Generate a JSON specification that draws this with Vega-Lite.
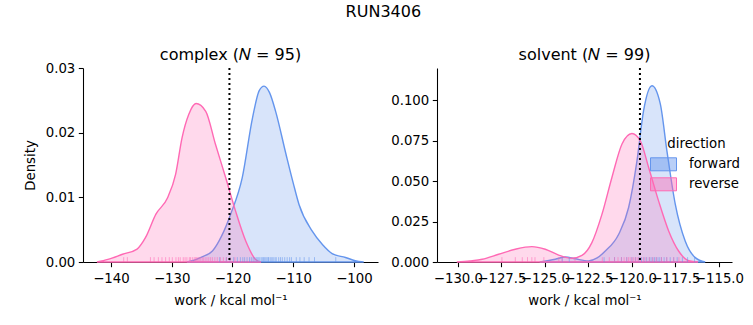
{
  "$schema": "https://vega.github.io/schema/vega-lite/v6.json",
  "title": {"text": "RUN3406", "fontSize": 16, "fontWeight": "normal", "font": "DejaVu Sans", "color": "black", "offset": 27, "anchor": "middle", "frame": "bounds"},
  "padding": {"left": 23, "top": 4, "right": 5, "bottom": 5},
  "spacing": 12,
  "resolve": {"legend": {"fill": "independent", "stroke": "independent"}, "scale": {"x": "independent", "y": "independent", "fill": "independent", "stroke": "independent"}},
  "config": {
    "font": "DejaVu Sans",
    "view": {"stroke": null},
    "axis": {"domainColor": "black", "tickColor": "black", "labelColor": "black", "titleColor": "black", "labelFontSize": 13.3, "titleFontSize": 13.3, "titleFontWeight": "normal", "grid": false, "tickSize": 4.7, "labelPadding": 3.5, "domainWidth": 1.07, "tickWidth": 1.07, "zindex": 1, "labelFont": "DejaVu Sans", "titleFont": "DejaVu Sans", "titlePadding": 8, "labelOverlap": false},
    "axisX": {"labelPadding": 5},
    "title": {"fontSize": 16, "fontWeight": "normal", "font": "DejaVu Sans", "color": "black", "offset": -2},
    "legend": {"labelFont": "DejaVu Sans", "titleFont": "DejaVu Sans", "labelColor": "black", "titleColor": "black", "labelFontSize": 13.3, "titleFontSize": 13.3, "titleFontWeight": "normal"}
  },
  "datasets": {
    "kde": [
      {"panel": "complex", "direction": "forward", "work": -127.5, "density": 0},
      {"panel": "complex", "direction": "forward", "work": -126.6, "density": 0.0002},
      {"panel": "complex", "direction": "forward", "work": -125.0, "density": 0.0008},
      {"panel": "complex", "direction": "forward", "work": -123.3, "density": 0.0017},
      {"panel": "complex", "direction": "forward", "work": -121.8, "density": 0.0040},
      {"panel": "complex", "direction": "forward", "work": -120.3, "density": 0.0074},
      {"panel": "complex", "direction": "forward", "work": -118.4, "density": 0.0130},
      {"panel": "complex", "direction": "forward", "work": -116.7, "density": 0.0223},
      {"panel": "complex", "direction": "forward", "work": -115.6, "density": 0.0265},
      {"panel": "complex", "direction": "forward", "work": -114.8, "density": 0.0272},
      {"panel": "complex", "direction": "forward", "work": -113.9, "density": 0.0262},
      {"panel": "complex", "direction": "forward", "work": -112.9, "density": 0.0233},
      {"panel": "complex", "direction": "forward", "work": -111.2, "density": 0.0167},
      {"panel": "complex", "direction": "forward", "work": -110.0, "density": 0.0122},
      {"panel": "complex", "direction": "forward", "work": -109.05, "density": 0.0089},
      {"panel": "complex", "direction": "forward", "work": -106.9, "density": 0.0048},
      {"panel": "complex", "direction": "forward", "work": -105.2, "density": 0.0027},
      {"panel": "complex", "direction": "forward", "work": -103.6, "density": 0.0013},
      {"panel": "complex", "direction": "forward", "work": -101.4, "density": 0.0007},
      {"panel": "complex", "direction": "forward", "work": -99.8, "density": 0.0002},
      {"panel": "complex", "direction": "forward", "work": -98.4, "density": 0},
      {"panel": "complex", "direction": "reverse", "work": -142.3, "density": 0},
      {"panel": "complex", "direction": "reverse", "work": -140.5, "density": 0.0004},
      {"panel": "complex", "direction": "reverse", "work": -138.1, "density": 0.0012},
      {"panel": "complex", "direction": "reverse", "work": -135.7, "density": 0.0020},
      {"panel": "complex", "direction": "reverse", "work": -134.3, "density": 0.0038},
      {"panel": "complex", "direction": "reverse", "work": -132.6, "density": 0.0074},
      {"panel": "complex", "direction": "reverse", "work": -130.7, "density": 0.0099},
      {"panel": "complex", "direction": "reverse", "work": -129.35, "density": 0.0136},
      {"panel": "complex", "direction": "reverse", "work": -128.3, "density": 0.0192},
      {"panel": "complex", "direction": "reverse", "work": -127.2, "density": 0.0228},
      {"panel": "complex", "direction": "reverse", "work": -126.0, "density": 0.0245},
      {"panel": "complex", "direction": "reverse", "work": -124.4, "density": 0.0233},
      {"panel": "complex", "direction": "reverse", "work": -122.8, "density": 0.0182},
      {"panel": "complex", "direction": "reverse", "work": -121.1, "density": 0.0130},
      {"panel": "complex", "direction": "reverse", "work": -119.5, "density": 0.0079},
      {"panel": "complex", "direction": "reverse", "work": -117.8, "density": 0.0032},
      {"panel": "complex", "direction": "reverse", "work": -116.2, "density": 0.0004},
      {"panel": "complex", "direction": "reverse", "work": -115.3, "density": 0},
      {"panel": "solvent", "direction": "forward", "work": -125.3, "density": 0},
      {"panel": "solvent", "direction": "forward", "work": -124.4, "density": 0.0017},
      {"panel": "solvent", "direction": "forward", "work": -123.83, "density": 0.0031},
      {"panel": "solvent", "direction": "forward", "work": -123.26, "density": 0.0020},
      {"panel": "solvent", "direction": "forward", "work": -122.49, "density": 0.0007},
      {"panel": "solvent", "direction": "forward", "work": -122.0, "density": 0.0025},
      {"panel": "solvent", "direction": "forward", "work": -121.53, "density": 0.0068},
      {"panel": "solvent", "direction": "forward", "work": -120.76, "density": 0.0172},
      {"panel": "solvent", "direction": "forward", "work": -120.19, "density": 0.0337},
      {"panel": "solvent", "direction": "forward", "work": -119.71, "density": 0.0626},
      {"panel": "solvent", "direction": "forward", "work": -119.33, "density": 0.0936},
      {"panel": "solvent", "direction": "forward", "work": -118.85, "density": 0.1090},
      {"panel": "solvent", "direction": "forward", "work": -118.37, "density": 0.0978},
      {"panel": "solvent", "direction": "forward", "work": -117.99, "density": 0.0688},
      {"panel": "solvent", "direction": "forward", "work": -117.51, "density": 0.0358},
      {"panel": "solvent", "direction": "forward", "work": -116.94, "density": 0.0130},
      {"panel": "solvent", "direction": "forward", "work": -116.36, "density": 0.0027},
      {"panel": "solvent", "direction": "forward", "work": -115.79, "density": 0},
      {"panel": "solvent", "direction": "reverse", "work": -130.06, "density": 0},
      {"panel": "solvent", "direction": "reverse", "work": -129.3, "density": 0.0007},
      {"panel": "solvent", "direction": "reverse", "work": -128.6, "density": 0.0017},
      {"panel": "solvent", "direction": "reverse", "work": -127.66, "density": 0.0048},
      {"panel": "solvent", "direction": "reverse", "work": -126.7, "density": 0.0079},
      {"panel": "solvent", "direction": "reverse", "work": -125.75, "density": 0.0095},
      {"panel": "solvent", "direction": "reverse", "work": -124.98, "density": 0.0079},
      {"panel": "solvent", "direction": "reverse", "work": -124.21, "density": 0.0043},
      {"panel": "solvent", "direction": "reverse", "work": -123.45, "density": 0.0023},
      {"panel": "solvent", "direction": "reverse", "work": -122.87, "density": 0.0041},
      {"panel": "solvent", "direction": "reverse", "work": -122.3, "density": 0.0120},
      {"panel": "solvent", "direction": "reverse", "work": -121.72, "density": 0.0296},
      {"panel": "solvent", "direction": "reverse", "work": -121.15, "density": 0.0523},
      {"panel": "solvent", "direction": "reverse", "work": -120.57, "density": 0.0730},
      {"panel": "solvent", "direction": "reverse", "work": -120.0, "density": 0.0795},
      {"panel": "solvent", "direction": "reverse", "work": -119.52, "density": 0.0750},
      {"panel": "solvent", "direction": "reverse", "work": -119.04, "density": 0.0585},
      {"panel": "solvent", "direction": "reverse", "work": -118.47, "density": 0.0378},
      {"panel": "solvent", "direction": "reverse", "work": -117.89, "density": 0.0192},
      {"panel": "solvent", "direction": "reverse", "work": -117.32, "density": 0.0068},
      {"panel": "solvent", "direction": "reverse", "work": -116.74, "density": 0.0008},
      {"panel": "solvent", "direction": "reverse", "work": -116.2, "density": 0}
    ],
    "rug": [
      {"panel": "complex", "direction": "forward", "work": -122.1},
      {"panel": "complex", "direction": "forward", "work": -121.0},
      {"panel": "complex", "direction": "forward", "work": -120.4},
      {"panel": "complex", "direction": "forward", "work": -119.8},
      {"panel": "complex", "direction": "forward", "work": -119.2},
      {"panel": "complex", "direction": "forward", "work": -118.7},
      {"panel": "complex", "direction": "forward", "work": -118.3},
      {"panel": "complex", "direction": "forward", "work": -118.0},
      {"panel": "complex", "direction": "forward", "work": -117.6},
      {"panel": "complex", "direction": "forward", "work": -117.2},
      {"panel": "complex", "direction": "forward", "work": -116.9},
      {"panel": "complex", "direction": "forward", "work": -116.6},
      {"panel": "complex", "direction": "forward", "work": -116.3},
      {"panel": "complex", "direction": "forward", "work": -116.0},
      {"panel": "complex", "direction": "forward", "work": -115.8},
      {"panel": "complex", "direction": "forward", "work": -115.6},
      {"panel": "complex", "direction": "forward", "work": -115.3},
      {"panel": "complex", "direction": "forward", "work": -115.1},
      {"panel": "complex", "direction": "forward", "work": -114.9},
      {"panel": "complex", "direction": "forward", "work": -114.7},
      {"panel": "complex", "direction": "forward", "work": -114.5},
      {"panel": "complex", "direction": "forward", "work": -114.3},
      {"panel": "complex", "direction": "forward", "work": -114.1},
      {"panel": "complex", "direction": "forward", "work": -114.0},
      {"panel": "complex", "direction": "forward", "work": -113.7},
      {"panel": "complex", "direction": "forward", "work": -113.5},
      {"panel": "complex", "direction": "forward", "work": -113.3},
      {"panel": "complex", "direction": "forward", "work": -113.0},
      {"panel": "complex", "direction": "forward", "work": -112.8},
      {"panel": "complex", "direction": "forward", "work": -112.4},
      {"panel": "complex", "direction": "forward", "work": -112.1},
      {"panel": "complex", "direction": "forward", "work": -111.8},
      {"panel": "complex", "direction": "forward", "work": -111.4},
      {"panel": "complex", "direction": "forward", "work": -111.0},
      {"panel": "complex", "direction": "forward", "work": -110.6},
      {"panel": "complex", "direction": "forward", "work": -110.3},
      {"panel": "complex", "direction": "forward", "work": -109.5},
      {"panel": "complex", "direction": "forward", "work": -108.9},
      {"panel": "complex", "direction": "forward", "work": -108.2},
      {"panel": "complex", "direction": "forward", "work": -107.4},
      {"panel": "complex", "direction": "forward", "work": -106.5},
      {"panel": "complex", "direction": "forward", "work": -103.0},
      {"panel": "complex", "direction": "reverse", "work": -137.9},
      {"panel": "complex", "direction": "reverse", "work": -137.3},
      {"panel": "complex", "direction": "reverse", "work": -133.5},
      {"panel": "complex", "direction": "reverse", "work": -132.9},
      {"panel": "complex", "direction": "reverse", "work": -132.2},
      {"panel": "complex", "direction": "reverse", "work": -131.6},
      {"panel": "complex", "direction": "reverse", "work": -131.0},
      {"panel": "complex", "direction": "reverse", "work": -130.4},
      {"panel": "complex", "direction": "reverse", "work": -129.9},
      {"panel": "complex", "direction": "reverse", "work": -129.3},
      {"panel": "complex", "direction": "reverse", "work": -128.9},
      {"panel": "complex", "direction": "reverse", "work": -128.6},
      {"panel": "complex", "direction": "reverse", "work": -128.1},
      {"panel": "complex", "direction": "reverse", "work": -127.8},
      {"panel": "complex", "direction": "reverse", "work": -127.5},
      {"panel": "complex", "direction": "reverse", "work": -127.1},
      {"panel": "complex", "direction": "reverse", "work": -126.9},
      {"panel": "complex", "direction": "reverse", "work": -126.6},
      {"panel": "complex", "direction": "reverse", "work": -126.3},
      {"panel": "complex", "direction": "reverse", "work": -126.1},
      {"panel": "complex", "direction": "reverse", "work": -125.9},
      {"panel": "complex", "direction": "reverse", "work": -125.7},
      {"panel": "complex", "direction": "reverse", "work": -125.5},
      {"panel": "complex", "direction": "reverse", "work": -125.3},
      {"panel": "complex", "direction": "reverse", "work": -125.0},
      {"panel": "complex", "direction": "reverse", "work": -124.8},
      {"panel": "complex", "direction": "reverse", "work": -124.5},
      {"panel": "complex", "direction": "reverse", "work": -124.2},
      {"panel": "complex", "direction": "reverse", "work": -123.9},
      {"panel": "complex", "direction": "reverse", "work": -123.6},
      {"panel": "complex", "direction": "reverse", "work": -123.3},
      {"panel": "complex", "direction": "reverse", "work": -122.9},
      {"panel": "complex", "direction": "reverse", "work": -122.5},
      {"panel": "complex", "direction": "reverse", "work": -122.0},
      {"panel": "complex", "direction": "reverse", "work": -121.5},
      {"panel": "complex", "direction": "reverse", "work": -121.0},
      {"panel": "complex", "direction": "reverse", "work": -120.4},
      {"panel": "complex", "direction": "reverse", "work": -119.6},
      {"panel": "solvent", "direction": "forward", "work": -124.0},
      {"panel": "solvent", "direction": "forward", "work": -123.6},
      {"panel": "solvent", "direction": "forward", "work": -121.6},
      {"panel": "solvent", "direction": "forward", "work": -121.0},
      {"panel": "solvent", "direction": "forward", "work": -120.6},
      {"panel": "solvent", "direction": "forward", "work": -120.3},
      {"panel": "solvent", "direction": "forward", "work": -120.0},
      {"panel": "solvent", "direction": "forward", "work": -119.8},
      {"panel": "solvent", "direction": "forward", "work": -119.6},
      {"panel": "solvent", "direction": "forward", "work": -119.45},
      {"panel": "solvent", "direction": "forward", "work": -119.3},
      {"panel": "solvent", "direction": "forward", "work": -119.15},
      {"panel": "solvent", "direction": "forward", "work": -119.0},
      {"panel": "solvent", "direction": "forward", "work": -118.9},
      {"panel": "solvent", "direction": "forward", "work": -118.8},
      {"panel": "solvent", "direction": "forward", "work": -118.7},
      {"panel": "solvent", "direction": "forward", "work": -118.6},
      {"panel": "solvent", "direction": "forward", "work": -118.5},
      {"panel": "solvent", "direction": "forward", "work": -118.4},
      {"panel": "solvent", "direction": "forward", "work": -118.3},
      {"panel": "solvent", "direction": "forward", "work": -118.15},
      {"panel": "solvent", "direction": "forward", "work": -118.0},
      {"panel": "solvent", "direction": "forward", "work": -117.8},
      {"panel": "solvent", "direction": "forward", "work": -117.6},
      {"panel": "solvent", "direction": "forward", "work": -117.4},
      {"panel": "solvent", "direction": "forward", "work": -117.1},
      {"panel": "solvent", "direction": "forward", "work": -116.8},
      {"panel": "solvent", "direction": "forward", "work": -116.4},
      {"panel": "solvent", "direction": "reverse", "work": -127.47},
      {"panel": "solvent", "direction": "reverse", "work": -126.7},
      {"panel": "solvent", "direction": "reverse", "work": -126.3},
      {"panel": "solvent", "direction": "reverse", "work": -126.0},
      {"panel": "solvent", "direction": "reverse", "work": -125.75},
      {"panel": "solvent", "direction": "reverse", "work": -125.57},
      {"panel": "solvent", "direction": "reverse", "work": -125.06},
      {"panel": "solvent", "direction": "reverse", "work": -124.2},
      {"panel": "solvent", "direction": "reverse", "work": -124.02},
      {"panel": "solvent", "direction": "reverse", "work": -123.27},
      {"panel": "solvent", "direction": "reverse", "work": -121.7},
      {"panel": "solvent", "direction": "reverse", "work": -121.3},
      {"panel": "solvent", "direction": "reverse", "work": -121.0},
      {"panel": "solvent", "direction": "reverse", "work": -120.8},
      {"panel": "solvent", "direction": "reverse", "work": -120.6},
      {"panel": "solvent", "direction": "reverse", "work": -120.45},
      {"panel": "solvent", "direction": "reverse", "work": -120.3},
      {"panel": "solvent", "direction": "reverse", "work": -120.2},
      {"panel": "solvent", "direction": "reverse", "work": -120.1},
      {"panel": "solvent", "direction": "reverse", "work": -120.0},
      {"panel": "solvent", "direction": "reverse", "work": -119.9},
      {"panel": "solvent", "direction": "reverse", "work": -119.8},
      {"panel": "solvent", "direction": "reverse", "work": -119.7},
      {"panel": "solvent", "direction": "reverse", "work": -119.6},
      {"panel": "solvent", "direction": "reverse", "work": -119.5},
      {"panel": "solvent", "direction": "reverse", "work": -119.35},
      {"panel": "solvent", "direction": "reverse", "work": -119.2},
      {"panel": "solvent", "direction": "reverse", "work": -119.0},
      {"panel": "solvent", "direction": "reverse", "work": -118.8},
      {"panel": "solvent", "direction": "reverse", "work": -118.6},
      {"panel": "solvent", "direction": "reverse", "work": -118.3},
      {"panel": "solvent", "direction": "reverse", "work": -118.0},
      {"panel": "solvent", "direction": "reverse", "work": -117.6},
      {"panel": "solvent", "direction": "reverse", "work": -117.3}
    ],
    "ref": [
      {"panel": "complex", "work": -120.5},
      {"panel": "solvent", "work": -119.54}
    ]
  },
  "hconcat": [
    {
      "width": 295,
      "height": 194,
      "title": {"text": "complex (𝑁 = 95)"},
      "layer": [
        {
          "data": {"name": "kde"},
          "transform": [{"filter": "datum.panel === 'complex'"}],
          "mark": {"type": "area", "fillOpacity": 0.25, "strokeWidth": 1.4, "interpolate": "monotone"},
          "encoding": {
            "x": {"field": "work", "type": "quantitative", "scale": {"domain": [-144.6, -96.05], "nice": false, "zero": false}, "axis": {"values": [-140, -130, -120, -110, -100], "format": "d"}, "title": "work / kcal mol⁻¹"},
            "y": {"field": "density", "type": "quantitative", "stack": null, "scale": {"domain": [0, 0.03], "nice": false}, "axis": {"values": [0, 0.01, 0.02, 0.03], "format": ".2f", "titlePadding": 8}, "title": "Density"},
            "fill": {"field": "direction", "type": "nominal", "scale": {"domain": ["forward", "reverse"], "range": ["#6495ED", "#FF69B4"]}, "legend": null},
            "stroke": {"field": "direction", "type": "nominal", "scale": {"domain": ["forward", "reverse"], "range": ["#6495ED", "#FF69B4"]}, "legend": null}
          }
        },
        {
          "data": {"name": "rug"},
          "transform": [{"filter": "datum.panel === 'complex'"}],
          "mark": {"type": "rule", "strokeWidth": 1, "opacity": 0.55},
          "encoding": {
            "x": {"field": "work", "type": "quantitative"},
            "y": {"datum": 0},
            "y2": {"datum": 0.00075},
            "stroke": {"field": "direction", "type": "nominal", "legend": null}
          }
        },
        {
          "data": {"name": "ref"},
          "transform": [{"filter": "datum.panel === 'complex'"}],
          "mark": {"type": "rule", "color": "black", "strokeWidth": 2, "strokeDash": [2, 3]},
          "encoding": {"x": {"field": "work", "type": "quantitative"}}
        }
      ]
    },
    {
      "width": 295,
      "height": 194,
      "title": {"text": "solvent (𝑁 = 99)", "offset": 4},
      "layer": [
        {
          "data": {"name": "kde"},
          "transform": [{"filter": "datum.panel === 'solvent'"}],
          "mark": {"type": "area", "fillOpacity": 0.25, "strokeWidth": 1.4, "interpolate": "monotone"},
          "encoding": {
            "x": {"field": "work", "type": "quantitative", "scale": {"domain": [-131.2, -114.25], "nice": false, "zero": false}, "axis": {"values": [-130, -127.5, -125, -122.5, -120, -117.5, -115], "format": ".1f"}, "title": "work / kcal mol⁻¹"},
            "y": {"field": "density", "type": "quantitative", "stack": null, "scale": {"domain": [0, 0.12], "nice": false}, "axis": {"values": [0, 0.025, 0.05, 0.075, 0.1], "format": ".3f", "labelOverlap": false}, "title": null},
            "fill": {"field": "direction", "type": "nominal", "scale": {"domain": ["forward", "reverse"], "range": ["#6495ED", "#FF69B4"]},
              "legend": {"title": "direction", "orient": "none", "legendX": 219.5, "legendY": 69, "symbolType": "M-2,-1H2V1H-2Z", "symbolSize": 169, "symbolStrokeWidth": 1, "labelOffset": 18.5, "rowPadding": 2, "titlePadding": 7, "titleAnchor": "middle",
                "encode": {"symbols": {"update": {"fillOpacity": {"value": 0.45}, "strokeOpacity": {"value": 1}}}, "title": {"update": {"dx": {"value": -2}}}}}},
            "stroke": {"field": "direction", "type": "nominal", "scale": {"domain": ["forward", "reverse"], "range": ["#6495ED", "#FF69B4"]},
              "legend": {"title": "direction", "orient": "none", "legendX": 219.5, "legendY": 69, "symbolType": "M-2,-1H2V1H-2Z", "symbolSize": 169, "symbolStrokeWidth": 1, "labelOffset": 18.5, "rowPadding": 2, "titlePadding": 7, "titleAnchor": "middle",
                "encode": {"symbols": {"update": {"fillOpacity": {"value": 0.45}, "strokeOpacity": {"value": 1}}}, "title": {"update": {"dx": {"value": -2}}}}}}
          }
        },
        {
          "data": {"name": "rug"},
          "transform": [{"filter": "datum.panel === 'solvent'"}],
          "mark": {"type": "rule", "strokeWidth": 1, "opacity": 0.55},
          "encoding": {
            "x": {"field": "work", "type": "quantitative"},
            "y": {"datum": 0},
            "y2": {"datum": 0.003},
            "stroke": {"field": "direction", "type": "nominal"}
          }
        },
        {
          "data": {"name": "ref"},
          "transform": [{"filter": "datum.panel === 'solvent'"}],
          "mark": {"type": "rule", "color": "black", "strokeWidth": 2, "strokeDash": [2, 3]},
          "encoding": {"x": {"field": "work", "type": "quantitative"}}
        }
      ]
    }
  ]
}
